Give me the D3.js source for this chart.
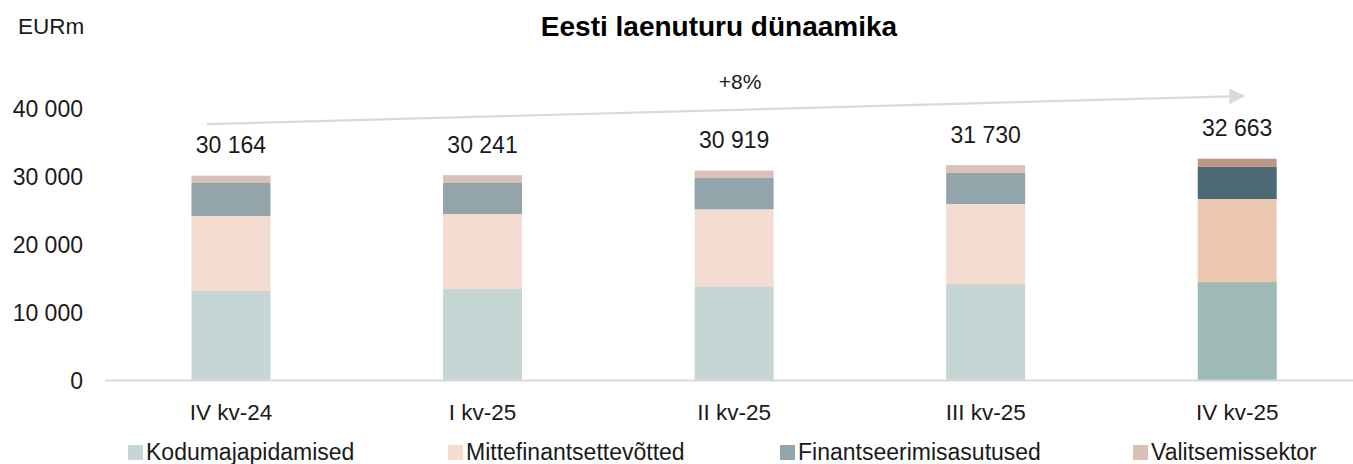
<!DOCTYPE html>
<html>
<head>
<meta charset="utf-8">
<script src="https://cdn.jsdelivr.net/npm/d3@7"></script>
<style>
  html, body { margin: 0; padding: 0; background: #fff; }
  svg { display: block; font-family: "Liberation Sans", Arial, Helvetica, sans-serif; }
</style>
</head>
<body>
<svg id="chart" width="1353" height="464"></svg>
<script>
const categories = ["IV kv-24", "I kv-25", "II kv-25", "III kv-25", "IV kv-25"];
const seriesNames = ["Kodumajapidamised", "Mittefinantsettevõtted", "Finantseerimisasutused", "Valitsemissektor"];
const households = [13180, 13475, 13870, 14210, 14500];
const nonFinancial = [11050, 11045, 11340, 11780, 12230];
const financial = [4860, 4570, 4610, 4610, 4710];
const government = [1074, 1151, 1099, 1130, 1223];
const totals = [30164, 30241, 30919, 31730, 32663];
const yTicks = [0, 10000, 20000, 30000, 40000];
const growthLabel = "+8%";

const colorsNormal = ["#c5d6d4", "#f4ddd0", "#92a5aa", "#d9c1b8"];
const colorsHighlight = ["#9fbab6", "#ecc8b0", "#4b6a73", "#bd9889"];

const svg = d3.select("#chart");
const fmt = v => d3.format(",")(v).replace(/,/g, " ");

const x = d3.scaleBand().domain(categories).range([105.2, 1363]).paddingInner(0.686).paddingOuter(0.343);
const y = d3.scaleLinear().domain([0, 40000]).range([380.5, 108.9]);

const rows = categories.map((c, i) => ({
  cat: c, idx: i,
  [seriesNames[0]]: households[i],
  [seriesNames[1]]: nonFinancial[i],
  [seriesNames[2]]: financial[i],
  [seriesNames[3]]: government[i]
}));
const stack = d3.stack().keys(seriesNames)(rows);

// bars
stack.forEach((layer, li) => {
  svg.append("g").selectAll("rect").data(layer).join("rect")
    .attr("x", d => x(d.data.cat))
    .attr("width", x.bandwidth())
    .attr("y", d => y(d[1]))
    .attr("height", d => y(d[0]) - y(d[1]))
    .attr("fill", d => d.data.idx === categories.length - 1 ? colorsHighlight[li] : colorsNormal[li]);
});

// axis baseline
svg.append("line")
  .attr("x1", x.range()[0]).attr("x2", x.range()[1])
  .attr("y1", y(0)).attr("y2", y(0))
  .attr("stroke", "#d9d9d9").attr("stroke-width", 2);

// y tick labels
svg.append("g").selectAll("text").data(yTicks).join("text")
  .attr("x", 83).attr("y", d => y(d)).attr("dy", "0.35em")
  .attr("text-anchor", "end").attr("font-size", 23).attr("fill", "#1a1a1a")
  .text(d => fmt(d));

// category labels
svg.append("g").selectAll("text").data(categories).join("text")
  .attr("x", d => x(d) + x.bandwidth() / 2).attr("y", 420)
  .attr("text-anchor", "middle").attr("font-size", 22.5).attr("fill", "#1a1a1a")
  .text(d => d);

// total labels
svg.append("g").selectAll("text").data(totals).join("text")
  .attr("x", (d, i) => x(categories[i]) + x.bandwidth() / 2)
  .attr("y", d => y(d) - 22.5)
  .attr("text-anchor", "middle").attr("font-size", 23).attr("fill", "#1a1a1a")
  .text(d => fmt(d));

// growth arrow
const x0 = x(categories[0]) + x.bandwidth() / 2 - 24;
const x1 = x(categories[4]) + x.bandwidth() / 2 + 8;
const yA = y(37750), yB = y(41900);
const headLen = 16;
const t = (x1 - headLen - x0) / (x1 - x0);
svg.append("line")
  .attr("x1", x0).attr("y1", yA)
  .attr("x2", x0 + (x1 - x0) * t).attr("y2", yA + (yB - yA) * t)
  .attr("stroke", "#d9d9d9").attr("stroke-width", 2.2);
const hb = x1 - headLen, hy = yA + (yB - yA) * t;
svg.append("path")
  .attr("d", `M${hb},${hy - 8}L${x1},${yB}L${hb},${hy + 8}Z`)
  .attr("fill", "#d9d9d9");
svg.append("text")
  .attr("x", (x(categories[2]) + x.bandwidth() / 2) + 6).attr("y", 89)
  .attr("text-anchor", "middle").attr("font-size", 21).attr("fill", "#1a1a1a")
  .text(growthLabel);

// title and unit
svg.append("text").attr("x", 719).attr("y", 36).attr("text-anchor", "middle")
  .attr("font-size", 28).attr("font-weight", "bold").attr("fill", "#000")
  .text("Eesti laenuturu dünaamika");
svg.append("text").attr("x", 18).attr("y", 33.5)
  .attr("font-size", 22.5).attr("fill", "#1a1a1a").text("EURm");

// legend
const legendX = [128, 448, 780, 1133];
const lg = svg.append("g").selectAll("g").data(seriesNames).join("g")
  .attr("transform", (d, i) => `translate(${legendX[i]},445)`);
lg.append("rect").attr("width", 15).attr("height", 15).attr("fill", (d, i) => colorsNormal[i]);
lg.append("text").attr("x", 18).attr("y", 15).attr("font-size", 23).attr("fill", "#1a1a1a").text(d => d);
</script>
</body>
</html>
